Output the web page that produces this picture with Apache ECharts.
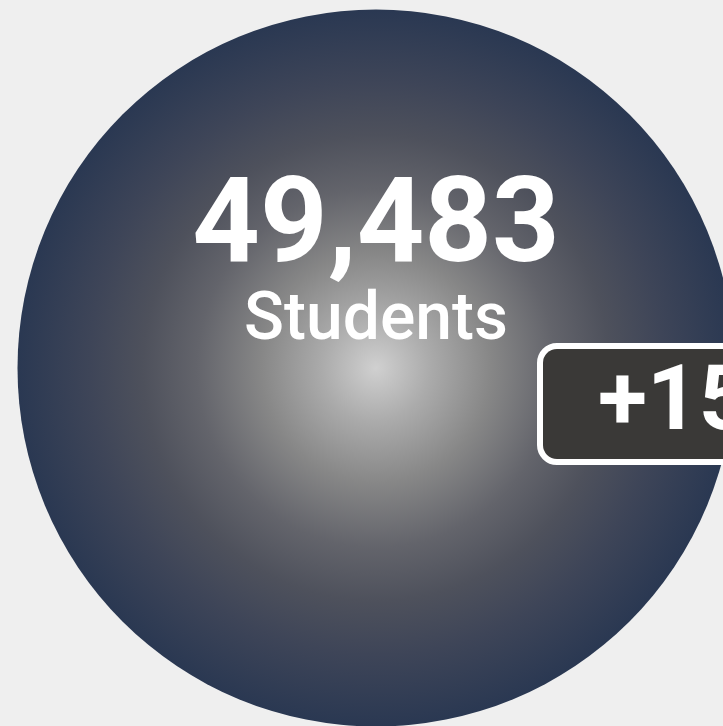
<!DOCTYPE html>
<html>
<head>
<meta charset="utf-8" />
<title>Students</title>
<script src="https://cdn.jsdelivr.net/npm/echarts@6/dist/echarts.min.js"></script>
<style>
    html, body { margin: 0; padding: 0; background: #efefef; }
    #main { width: 723px; height: 726px; }
</style>
</head>
<body>
<div id="main"></div>
<script>
    // data
    var totalValue = [49483];
    var totalLabel = ['Students'];
    var changeLabel = ['+15%'];

    var chart = echarts.init(document.getElementById('main'));

    var bubbleColor = {
        type: 'radial', x: 0.5, y: 0.5, r: 0.5,
        colorStops: [
            { offset: 0, color: '#d0d0d0' },
            { offset: 0.15, color: '#ababab' },
            { offset: 0.32, color: '#878787' },
            { offset: 0.5, color: '#63646b' },
            { offset: 0.65, color: '#4e515c' },
            { offset: 0.8, color: '#3e4558' },
            { offset: 1, color: '#2a3852' }
        ]
    };

    chart.setOption({
        backgroundColor: '#efefef',
        animation: false,
        grid: { left: 276, top: 268, width: 200, height: 200 },
        xAxis: { type: 'value', min: -1, max: 1, show: false },
        yAxis: { type: 'value', min: -1, max: 1, show: false },
        series: [
            {
                type: 'scatter',
                symbolSize: 717,
                data: [[0, 0, totalValue[0]]],
                itemStyle: { color: bubbleColor, opacity: 1 },
                emphasis: { disabled: true },
                label: {
                    show: true,
                    position: 'inside',
                    offset: [0, -102],
                    formatter: function (p) {
                        return '{num|' + p.value[2].toLocaleString('en-US') + '}\n{txt|' + totalLabel[0] + '}';
                    },
                    rich: {
                        num: { fontFamily: 'Roboto', fontWeight: 'bold', fontSize: 118, color: '#fff', lineHeight: 112 },
                        txt: { fontFamily: 'Roboto', fontWeight: 500, fontSize: 66, color: '#fff', lineHeight: 70 }
                    }
                }
            },
            {
                type: 'scatter',
                symbolSize: 0,
                data: [[0, 0]],
                itemStyle: { opacity: 1 },
                emphasis: { disabled: true },
                label: {
                    show: true,
                    position: [167, -19],
                    formatter: changeLabel[0],
                    fontFamily: 'Roboto',
                    fontWeight: 'bold',
                    fontSize: 90,
                    color: '#fff',
                    backgroundColor: '#3a3937',
                    borderColor: '#fff',
                    borderWidth: 6,
                    borderRadius: 14,
                    padding: [12, 40, 8, 55]
                }
            }
        ]
    });
</script>
</body>
</html>
